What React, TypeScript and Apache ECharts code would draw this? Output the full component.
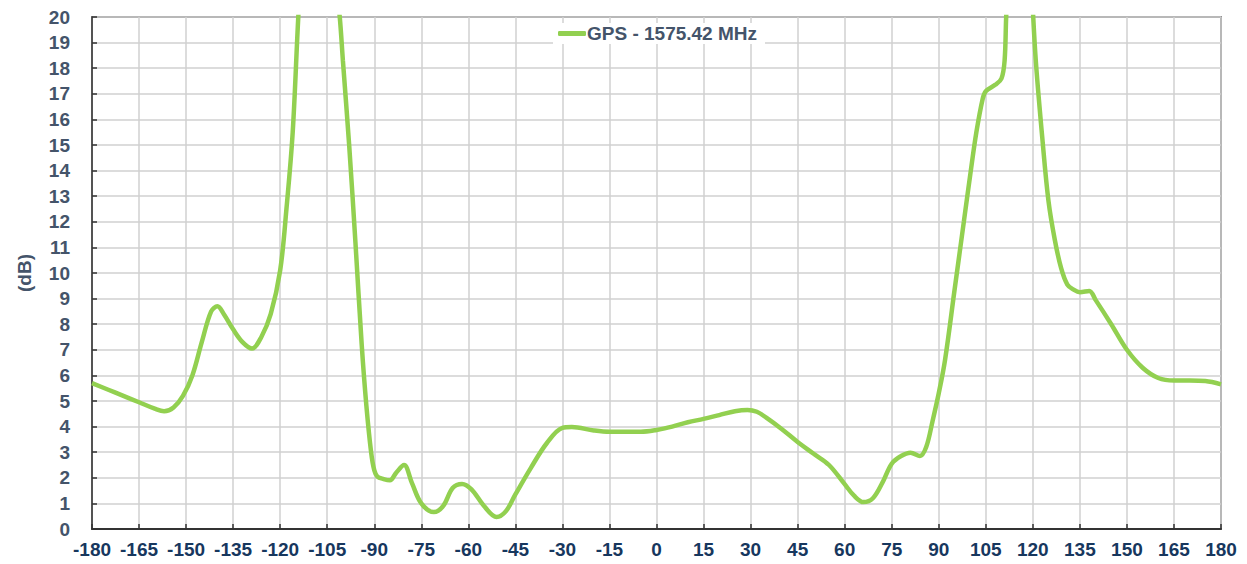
import React, { useEffect, useRef } from "react";
import * as echarts from "echarts";

const angles = [
  -180, -175, -170, -165, -160, -157, -154, -151, -148, -145, -142, -140, -138, -135, -132, -129, -126, -123, -120,
  -118, -116, -114, -112, -108, -104, -102, -101, -100, -98, -96, -94, -92.5, -91, -90, -89, -87, -85, -83, -80.5,
  -78, -75, -71, -68, -65, -62, -59, -55, -51, -48, -45, -40, -35, -30, -27, -20, -15, -5, 0, 5, 10, 15, 20, 25, 29,
  32, 35, 40, 45, 50, 55, 60, 63, 66, 69, 72, 75, 78, 81, 84, 86, 88, 90, 92, 95, 98, 100, 102, 104, 105, 108, 110,
  111, 111.5, 113, 116, 119, 120, 121, 123, 125, 127, 129, 131, 133, 135, 138, 140, 145, 150, 155, 160, 165, 170,
  175, 180,
];
const gains = [
  5.7, 5.45, 5.2, 4.95, 4.7, 4.6, 4.75, 5.2, 6.0, 7.3, 8.5, 8.7, 8.4, 7.8, 7.3, 7.05, 7.5, 8.4, 10.1,
  12.5, 15.5, 20.5, 24, 27, 24, 21, 20, 18.3, 15, 11.2, 7.2, 4.8, 3.0, 2.3, 2.05, 1.95, 1.9, 2.2, 2.5,
  1.8, 1.0, 0.66, 0.9, 1.6, 1.76, 1.55, 0.9, 0.47, 0.7, 1.35, 2.4, 3.35, 3.95, 3.98, 3.85, 3.8, 3.8, 3.87, 4.0, 4.17,
  4.3, 4.45, 4.6, 4.65, 4.58, 4.35, 3.9, 3.4, 2.95, 2.5, 1.75, 1.3, 1.05, 1.2, 1.8, 2.55, 2.85, 2.98, 2.85, 3.2, 4.2,
  5.3, 6.6, 9.3, 12.0, 13.8, 15.5, 16.8, 17.1, 17.35, 17.6, 18.3, 20, 24, 26, 23, 20.3, 18.2, 15.3, 12.8, 11.3, 10.2,
  9.55, 9.35, 9.25, 9.3, 8.95, 8.0, 7.0, 6.3, 5.9, 5.8, 5.8, 5.78, 5.65,
];
const seriesName = "GPS - 1575.42 MHz";
const yAxisTitle = "(dB)";

const FONT = "Liberation Sans";

export default function App() {
  const ref = useRef<HTMLDivElement>(null);
  useEffect(() => {
    if (!ref.current) return;
    const chart = echarts.init(ref.current, undefined, { renderer: "svg" });
    const data = angles.map((a, i) => [a, gains[i]]);
    chart.setOption({
      animation: false,
      backgroundColor: "#ffffff",
      grid: {
        left: 92,
        right: 26,
        top: 17,
        bottom: 35,
        show: true,
        borderColor: "#404040",
        borderWidth: 1.5,
      },
      legend: {
        top: 23,
        left: 553,
        backgroundColor: "#ffffff",
        padding: [1, 8, 1, 5],
        itemWidth: 28,
        itemHeight: 5,
        itemGap: 0,
        icon: "roundRect",
        textStyle: {
          fontFamily: FONT,
          fontWeight: "bold",
          fontSize: 19,
          color: "#44546a",
          padding: [0, 0, 0, -4],
        },
        data: [{ name: seriesName, icon: "roundRect" }],
      },
      xAxis: {
        type: "value",
        min: -180,
        max: 180,
        interval: 15,
        axisLine: { show: true, onZero: false, lineStyle: { color: "#333333", width: 2 } },
        axisTick: { show: true, inside: true, length: 5, lineStyle: { color: "#333333", width: 1.5 } },
        splitLine: { show: true, lineStyle: { color: "#d0d0d0", width: 1.5 } },
        axisLabel: {
          fontFamily: FONT,
          fontWeight: "bold",
          fontSize: 19,
          color: "#17375e",
          margin: 11,
        },
      },
      yAxis: {
        type: "value",
        min: 0,
        max: 20,
        interval: 1,
        name: yAxisTitle,
        nameLocation: "middle",
        nameGap: 58,
        nameTextStyle: {
          fontFamily: FONT,
          fontWeight: "bold",
          fontSize: 19,
          color: "#44546a",
        },
        axisLine: { show: true, onZero: false, lineStyle: { color: "#333333", width: 1.5 } },
        axisTick: { show: true, inside: true, length: 5, lineStyle: { color: "#333333", width: 1.5 } },
        splitLine: { show: true, lineStyle: { color: "#d0d0d0", width: 1.5 } },
        axisLabel: {
          fontFamily: FONT,
          fontWeight: "bold",
          fontSize: 19,
          color: "#44546a",
          margin: 22,
        },
      },
      series: [
        {
          name: seriesName,
          type: "line",
          data,
          smooth: 0.35,
          showSymbol: false,
          symbol: "none",
          clip: true,
          lineStyle: { color: "#92d050", width: 4.5 },
          itemStyle: { color: "#92d050" },
        },
      ],
    });
    return () => chart.dispose();
  }, []);
  return (
    <div
      ref={ref}
      style={{ position: "fixed", left: 0, top: 0, width: 1247, height: 564, background: "#fff" }}
    />
  );
}
